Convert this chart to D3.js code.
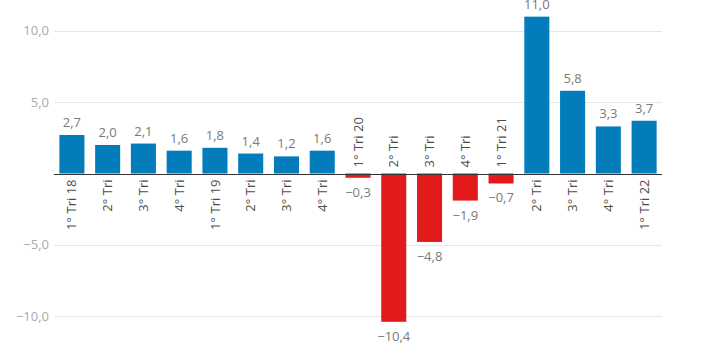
<!DOCTYPE html>
<html>
<head>
<meta charset="utf-8">
<script src="https://cdn.jsdelivr.net/npm/d3@7"></script>
<style>
  html, body { margin: 0; padding: 0; background: #fff; }
  svg { display: block; font-family: "Open Sans", sans-serif; }
</style>
</head>
<body>
<svg id="chart" width="723" height="350"></svg>
<script>
const categories = ["1° Tri 18", "2° Tri", "3° Tri", "4° Tri", "1° Tri 19", "2° Tri", "3° Tri", "4° Tri",
  "1° Tri 20", "2° Tri", "3° Tri", "4° Tri", "1° Tri 21", "2° Tri", "3° Tri", "4° Tri", "1° Tri 22"];
const values = [2.7, 2.0, 2.1, 1.6, 1.8, 1.4, 1.2, 1.6, -0.3, -10.4, -4.8, -1.9, -0.7, 11.0, 5.8, 3.3, 3.7];
const yTicks = [-10, -5, 0, 5, 10];

const svg = d3.select("#chart");
const left = 54, right = 662;
const fmt = v => d3.format(".1f")(v).replace(".", ",").replace("-", "\u2212");

const x = d3.scaleBand().domain(d3.range(categories.length)).range([left, right])
  .paddingInner(0.3).paddingOuter(0.15);
const y = d3.scaleLinear().domain([-10, 10]).range([316.1, 30.9]);

// gridlines
svg.append("g").selectAll("line").data(yTicks.filter(t => t !== 0)).join("line")
  .attr("x1", left).attr("x2", right)
  .attr("y1", d => Math.round(y(d)) + 0.5).attr("y2", d => Math.round(y(d)) + 0.5)
  .attr("stroke", "#e6e6e6").attr("stroke-width", 1);

// y tick labels
svg.append("g").selectAll("text").data(yTicks.filter(t => t !== 0)).join("text")
  .attr("x", left - 5).attr("y", d => y(d)).attr("dy", "0.35em")
  .attr("text-anchor", "end").attr("font-size", 13).attr("fill", "#aaaaaa")
  .text(d => fmt(d));

// bars
svg.append("g").selectAll("rect").data(values).join("rect")
  .attr("x", (d, i) => x(i)).attr("width", x.bandwidth())
  .attr("y", d => y(Math.max(0, d)))
  .attr("height", d => Math.abs(y(d) - y(0)))
  .attr("fill", d => d >= 0 ? "#027cbb" : "#e31a1c");

// zero line
svg.append("line").attr("x1", left).attr("x2", right)
  .attr("y1", Math.round(y(0)) + 0.5).attr("y2", Math.round(y(0)) + 0.5)
  .attr("stroke", "#333").attr("stroke-width", 1);

// value labels
svg.append("g").selectAll("text").data(values).join("text")
  .attr("x", (d, i) => x(i) + x.bandwidth() / 2)
  .attr("y", d => d >= 0 ? y(d) - 8 : y(d) + 19)
  .attr("text-anchor", "middle").attr("font-size", 13).attr("fill", "#7a7a7a")
  .text(d => fmt(d));

// category labels
svg.append("g").selectAll("text").data(categories).join("text")
  .attr("transform", (d, i) => {
    const cx = x(i) + x.bandwidth() / 2;
    const cy = values[i] >= 0 ? y(0) + 6 : y(0) - 6;
    return `translate(${cx},${cy}) rotate(-90)`;
  })
  .attr("dy", "0.35em")
  .attr("text-anchor", (d, i) => values[i] >= 0 ? "end" : "start")
  .attr("font-size", 13).attr("fill", "#4d4d4d")
  .text(d => d);
</script>
</body>
</html>
